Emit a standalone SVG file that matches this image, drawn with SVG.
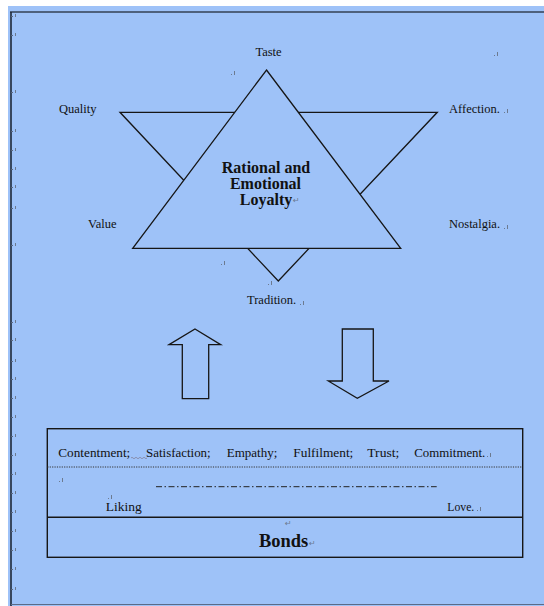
<svg xmlns="http://www.w3.org/2000/svg" width="544" height="606" viewBox="0 0 544 606">
<style>
.ln{fill:none;stroke:#161616;stroke-width:1.3;stroke-linejoin:miter}
.sh{fill:#9ec2f8;stroke:#161616;stroke-width:1.3}
.lb{font-family:"Liberation Serif","Times New Roman",serif;font-size:12.5px;fill:#111}
.bd{font-family:"Liberation Serif","Times New Roman",serif;font-weight:bold;fill:#111}
.pm{fill:#6c7a90}
.mk{fill:#5a6882}
</style>
<defs>
<g id="tick"><rect x="11" y="0" width="2" height="1" class="mk"/><rect x="15" y="-2" width="1" height="3" class="pm"/></g>
<g id="pmark"><rect x="0" y="0" width="1" height="1" class="pm"/><rect x="3" y="-3" width="1" height="4" class="pm"/></g>
</defs>
<rect x="0" y="0" width="544" height="606" fill="#ffffff"/>
<rect x="8" y="6" width="536" height="600" fill="#9ec2f8"/>
<g id="page-border">
<line x1="10" y1="12" x2="544" y2="12" stroke="#334155" stroke-width="1.6"/>
<line x1="11" y1="12" x2="11" y2="606" stroke="#1e2838" stroke-width="1.6"/>
<line x1="11" y1="604.5" x2="544" y2="604.5" stroke="#5b6b88" stroke-width="1"/>
</g>
<g id="margin-marks">
<use href="#tick" y="16"/><use href="#tick" y="35"/><use href="#tick" y="92"/><use href="#tick" y="131"/>
<use href="#tick" y="150"/><use href="#tick" y="169"/><use href="#tick" y="187"/><use href="#tick" y="208"/>
<use href="#tick" y="245"/><use href="#tick" y="322"/><use href="#tick" y="340"/><use href="#tick" y="361"/>
<use href="#tick" y="379"/><use href="#tick" y="398"/><use href="#tick" y="417"/><use href="#tick" y="436"/>
<use href="#tick" y="455"/><use href="#tick" y="474"/><use href="#tick" y="493"/><use href="#tick" y="512"/>
<use href="#tick" y="531"/><use href="#tick" y="550"/><use href="#tick" y="569"/><use href="#tick" y="589"/>
</g>
<g id="star">
<polygon class="sh" points="120,112.3 437.3,112.3 278.3,281"/>
<polygon class="sh" points="266.5,70 400.7,248.3 132.7,248.3"/>
</g>
<g id="loyalty">
<text class="bd" font-size="16" x="266" y="173" text-anchor="middle">Rational and</text>
<text class="bd" font-size="16" x="265.5" y="188.5" text-anchor="middle">Emotional</text>
<text class="bd" font-size="16" x="266" y="204.5" text-anchor="middle">Loyalty</text>
<text x="293" y="203" font-family="DejaVu Sans,sans-serif" font-size="8" fill="#6c7a90">↵</text>
</g>
<g id="taste"><text class="lb" x="268.5" y="56" text-anchor="middle">Taste</text></g>
<g id="quality"><text class="lb" x="59" y="112.5">Quality</text></g>
<g id="affection"><text class="lb" x="449" y="112.5">Affection.</text><use href="#pmark" x="504" y="112"/></g>
<g id="value"><text class="lb" x="88" y="228">Value</text></g>
<g id="nostalgia"><text class="lb" x="449" y="228">Nostalgia.</text><use href="#pmark" x="504" y="228"/></g>
<g id="tradition"><text class="lb" x="247" y="304">Tradition.</text><use href="#pmark" x="300" y="304"/></g>
<g id="stray-marks">
<use href="#pmark" x="231" y="74"/><use href="#pmark" x="494" y="55"/>
<use href="#pmark" x="221" y="264"/><use href="#pmark" x="268" y="284"/>
</g>
<g id="connectors">
<polygon class="ln" points="195,329 220.7,344.7 208.7,344.7 208.7,398.7 182.3,398.7 182.3,344.7 169,344.7"/>
<polygon class="ln" points="342.3,329 373.3,329 373.3,381 389,381 357.3,398.3 328.3,381 342.3,381"/>
</g>
<g id="bonds-box">
<rect x="47.3" y="428.7" width="475.4" height="128.6" fill="none" stroke="#161616" stroke-width="1.4"/>
<line x1="47.3" y1="467" x2="522.7" y2="467" stroke="#333" stroke-width="1" stroke-dasharray="1.2,1.2"/>
<line x1="156" y1="486.7" x2="436.7" y2="486.7" stroke="#222" stroke-width="1" stroke-dasharray="6,2.5,1.5,2.5"/>
<line x1="47.3" y1="517.3" x2="522.7" y2="517.3" stroke="#161616" stroke-width="1.4"/>
<g id="qualities">
<text class="lb" x="58.3" y="457" textLength="72" lengthAdjust="spacingAndGlyphs">Contentment;</text>
<path d="M131,458 q1,-1.5 2,0 t2,0 t2,0 t2,0 t2,0 t2,0 t2,0 t2,0" fill="none" stroke="#7a6f80" stroke-width="0.6"/>
<text class="lb" x="146" y="457" textLength="64.7" lengthAdjust="spacingAndGlyphs">Satisfaction;</text>
<text class="lb" x="226.7" y="457" textLength="50.6" lengthAdjust="spacingAndGlyphs">Empathy;</text>
<text class="lb" x="293.3" y="457" textLength="60" lengthAdjust="spacingAndGlyphs">Fulfilment;</text>
<text class="lb" x="367.3" y="457" textLength="32" lengthAdjust="spacingAndGlyphs">Trust;</text>
<text class="lb" x="414.3" y="457" textLength="71" lengthAdjust="spacingAndGlyphs">Commitment.</text>
<use href="#pmark" x="487" y="456"/>
</g>
<use href="#pmark" x="59" y="481"/>
<use href="#pmark" x="108" y="498"/>
<g id="liking"><text class="lb" x="105.7" y="511" textLength="36" lengthAdjust="spacingAndGlyphs">Liking</text></g>
<g id="love"><text class="lb" x="447.3" y="511" textLength="27" lengthAdjust="spacingAndGlyphs">Love.</text><use href="#pmark" x="477" y="510"/></g>
<text x="285" y="526" font-family="DejaVu Sans,sans-serif" font-size="8" fill="#6c7a90">↵</text>
<g id="bonds"><text class="bd" font-size="18" x="259" y="547" textLength="49.3" lengthAdjust="spacingAndGlyphs">Bonds</text>
<text x="309" y="546" font-family="DejaVu Sans,sans-serif" font-size="8" fill="#6c7a90">↵</text></g>
</g>
</svg>
